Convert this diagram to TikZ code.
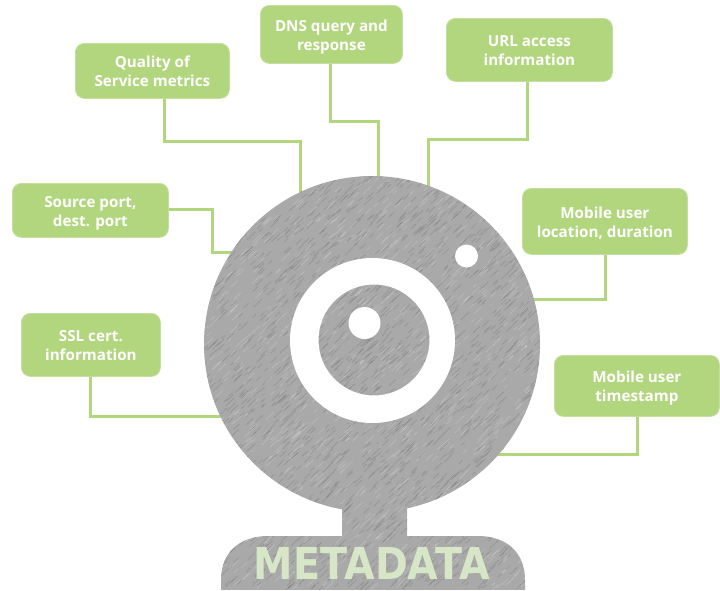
\documentclass[tikz,border=0pt]{standalone}
\usepackage{fontspec}
\setmainfont{Open Sans}
\newfontfamily\logofont{DejaVu Sans}
\usetikzlibrary{calc}
\definecolor{leaf}{HTML}{B2D67E}
\definecolor{leafedge}{HTML}{C4DEA0}
\definecolor{body}{HTML}{A9A9A9}
\definecolor{logo}{HTML}{D6E6C6}
\tikzset{
  x=1pt,y=-1pt,
  info/.style={draw=leafedge,line width=0.8pt,fill=leaf,rounded corners=9pt,text=white,
    font=\fontsize{15.2}{19}\selectfont\bfseries,inner sep=0pt,anchor=north west},
  link/.style={draw=leaf,line width=3pt},
  hole/.style={fill=white},
}
\newcommand{\infobox}[6]{\node[info,minimum width=#4pt,minimum height=#5pt] (#1) at (#2,#3)
  {\vbox{\vskip5pt\hbox{\begin{tabular}{@{}c@{}}#6\end{tabular}}}};}
\begin{document}
\begin{tikzpicture}
\useasboundingbox (0,0) rectangle (720,590);
% labels
\infobox{qos}{75}{43}{154}{55}{Quality of\\Service metrics}
\infobox{dns}{260}{5}{142}{58}{DNS query and\\response}
\infobox{url}{446}{18}{166}{63}{URL access\\information}
\infobox{src}{12}{183}{156}{54}{Source port,\\dest. port}
\infobox{loc}{522}{188}{165}{66}{Mobile user\\location, duration}
\infobox{ssl}{21}{313}{139}{63}{SSL cert.\\information}
\infobox{tim}{554}{355}{165}{61}{Mobile user\\timestamp}
% connector bends and free ends
\coordinate (qa) at (164,141); \coordinate (qe) at (300,192);
\coordinate (da) at (330,121); \coordinate (de) at (378,180);
\coordinate (ua) at (527,139); \coordinate (ue) at (428,186);
\coordinate (sa) at (212,209); \coordinate (se) at (232,252);
\coordinate (la) at (605,299); \coordinate (le) at (530,299);
\coordinate (ca) at (90,416);  \coordinate (ce) at (226,416);
\coordinate (ta) at (637,454); \coordinate (te) at (490,454);
\draw[link] (qos.south -| qa) -- (qa) -| (qe);
\draw[link] (dns.south -| da) -- (da) -| (de);
\draw[link] (url.south -| ua) -- (ua) -| (ue);
\draw[link] (src.east |- sa) -- (sa) |- (se);
\draw[link] (loc.south -| la) -- (la) -- (le);
\draw[link] (ssl.south -| ca) -- (ca) -- (ce);
\draw[link] (tim.south -| ta) -- (ta) -- (te);
% camera silhouette with hatched texture
\begin{scope}
\path[clip]
  (372,344) circle[radius=168]
  (407,500) rectangle (342,540)
  (221,590) -- (221,580) .. controls (221,552) and (240,536) .. (268,536) -- (478,536)
  .. controls (506,536) and (525,552) .. (525,580) -- (525,590) -- cycle;
\fill[body] (200,170) rectangle (545,590);
\pgfmathsetseed{7}
\foreach \i in {1,...,3200}{
  \pgfmathsetmacro{\px}{200+345*rnd}
  \pgfmathsetmacro{\py}{170+420*rnd}
  \pgfmathsetmacro{\pl}{3+6*rnd}
  \pgfmathsetmacro{\ps}{rnd}
  \ifdim\ps pt<0.6pt
    \draw[black!55,line width=0.6pt,opacity=0.42] (\px,\py) -- ++(\pl,-0.95*\pl);
  \else
    \draw[white,line width=0.6pt,opacity=0.22] (\px,\py) -- ++(\pl,-0.95*\pl);
  \fi
}
\end{scope}
% lens and LED
\fill[hole,even odd rule] (372.5,340.5) circle[radius=82.5] (374,340) circle[radius=55.5];
\fill[hole] (364.5,323) circle[radius=16];
\fill[hole] (466.5,256) circle[radius=11.5];
\node[text=logo,inner sep=0pt,font=\logofont\fontsize{44}{44}\selectfont\bfseries] (word) at (372,563)
  {\scalebox{0.9}[1]{METADATA}};
\end{tikzpicture}
\end{document}
